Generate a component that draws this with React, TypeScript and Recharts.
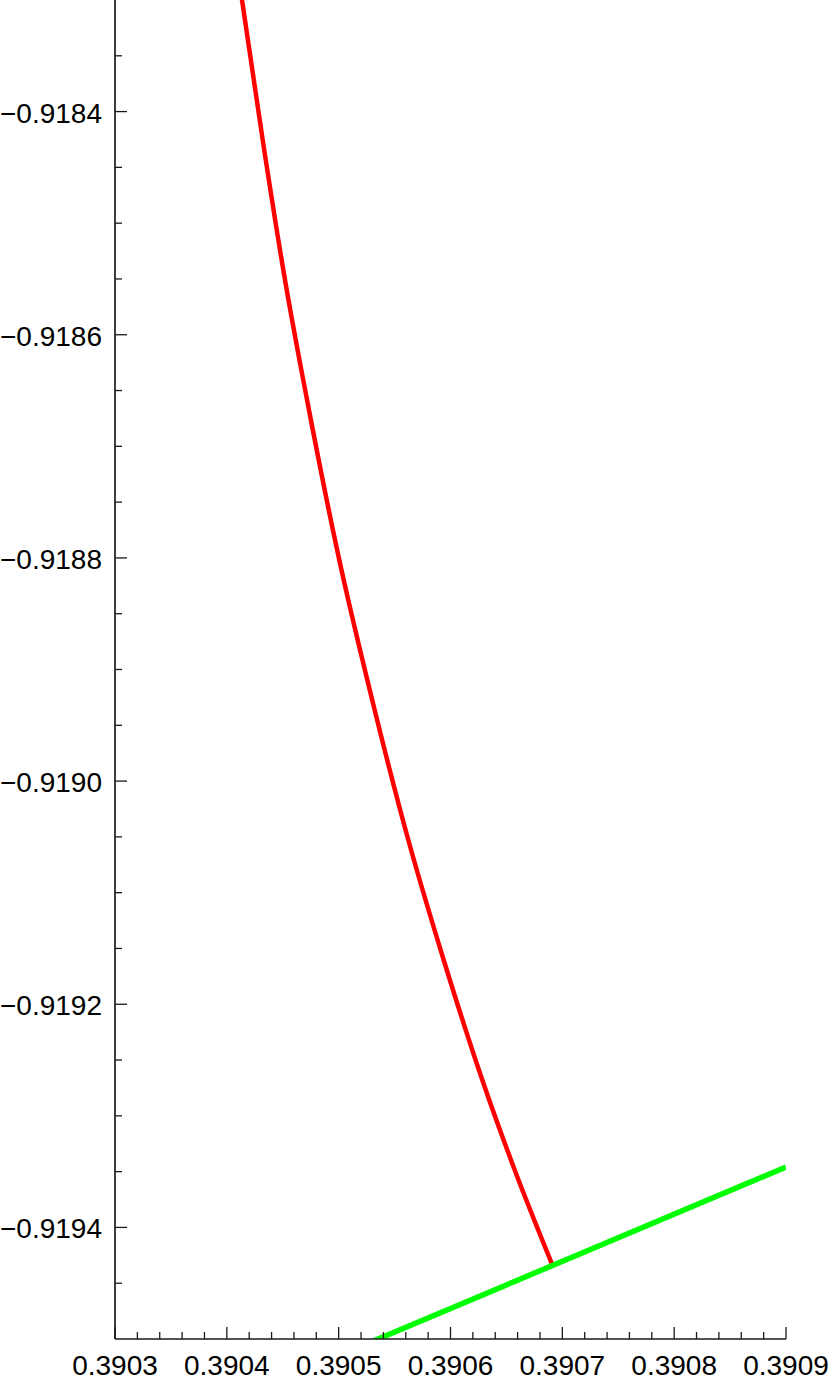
import React from 'react';
import { LineChart, Line, XAxis, YAxis } from 'recharts';

// Red curve (x, y)
const redX = [0.39040856, 0.39041356, 0.39043207, 0.39045201, 0.39047517, 0.39050057, 0.39052999, 0.39056227, 0.39059392, 0.39062844, 0.39065741, 0.39069049];
const redY = [-0.91826415, -0.9183, -0.91842547, -0.91855093, -0.9186764, -0.91880187, -0.91892733, -0.9190528, -0.91916034, -0.91926789, -0.91934854, -0.91943217];

// Green straight line
const greenX = [0.3905, 0.3909];
const greenY = [-0.9195149, -0.9193459];

// Axis ticks
const xMajorTicks = [0.3903, 0.3904, 0.3905, 0.3906, 0.3907, 0.3908, 0.3909];
const xMinorTicks = [
  0.39032, 0.39034, 0.39036, 0.39038,
  0.39042, 0.39044, 0.39046, 0.39048,
  0.39052, 0.39054, 0.39056, 0.39058,
  0.39062, 0.39064, 0.39066, 0.39068,
  0.39072, 0.39074, 0.39076, 0.39078,
  0.39082, 0.39084, 0.39086, 0.39088,
];
const yMajorTicks = [-0.9194, -0.9192, -0.919, -0.9188, -0.9186, -0.9184];
const yMinorTicks = [
  -0.91945, -0.91935, -0.9193, -0.91925, -0.91915, -0.9191, -0.91905,
  -0.91895, -0.9189, -0.91885, -0.91875, -0.9187, -0.91865,
  -0.91855, -0.9185, -0.91845, -0.91835,
];

const xDomain = [0.3903, 0.3909];
const yDomain = [-0.9195, -0.9183];

const redData = redX.map((x, i) => ({ x, y: redY[i] }));
const greenData = greenX.map((x, i) => ({ x, y: greenY[i] }));

const FONT = '"Liberation Sans", Arial, sans-serif';
const AXIS_COLOR = '#1a1a1a';

const isIn = (arr: number[], v: number) => arr.some((m) => Math.abs(m - v) < 1e-9);

const XTick = (props: any) => {
  const { x, y, payload } = props;
  const v = payload.value as number;
  const major = isIn(xMajorTicks, v);
  return (
    <g>
      <line x1={x} y1={y} x2={x} y2={y - (major ? 12 : 7)} stroke={AXIS_COLOR} strokeWidth={1.3} />
      {major && (
        <text x={x} y={y + 36} textAnchor="middle" fontFamily={FONT} fontSize={28} fill="#000">
          {v.toFixed(4)}
        </text>
      )}
    </g>
  );
};

const YTick = (props: any) => {
  const { x, y, payload } = props;
  const v = payload.value as number;
  const major = isIn(yMajorTicks, v);
  return (
    <g>
      <line x1={x} y1={y} x2={x + (major ? 12 : 7)} y2={y} stroke={AXIS_COLOR} strokeWidth={1.3} />
      {major && (
        <text x={x - 13} y={y + 11} textAnchor="end" fontFamily={FONT} fontSize={28} fill="#000">
          {'\u2212' + Math.abs(v).toFixed(4)}
        </text>
      )}
    </g>
  );
};

export default function App() {
  return (
    <div style={{ position: 'absolute', left: 0, top: 0, width: 830, height: 1385, background: '#fff' }}>
      <LineChart width={830} height={1385} margin={{ top: 0, right: 44, bottom: 0, left: 0 }}>
        <XAxis
          type="number"
          dataKey="x"
          domain={xDomain}
          allowDataOverflow
          ticks={[...xMajorTicks, ...xMinorTicks]}
          interval={0}
          tick={(p: any) => <XTick {...p} />}
          tickLine={false}
          tickSize={0}
          tickMargin={0}
          height={46}
          axisLine={{ stroke: AXIS_COLOR, strokeWidth: 1.7 }}
        />
        <YAxis
          type="number"
          dataKey="y"
          domain={yDomain}
          allowDataOverflow
          ticks={[...yMajorTicks, ...yMinorTicks]}
          interval={0}
          tick={(p: any) => <YTick {...p} />}
          tickLine={false}
          tickSize={0}
          tickMargin={0}
          width={115}
          axisLine={{ stroke: AXIS_COLOR, strokeWidth: 1.7 }}
        />
        <Line
          data={redData}
          dataKey="y"
          type="monotoneX"
          stroke="#ff0000"
          strokeWidth={4.5}
          dot={false}
          activeDot={false}
          isAnimationActive={false}
        />
        <Line
          data={greenData}
          dataKey="y"
          type="linear"
          stroke="#00ff00"
          strokeWidth={5.5}
          dot={false}
          activeDot={false}
          isAnimationActive={false}
        />
      </LineChart>
    </div>
  );
}
